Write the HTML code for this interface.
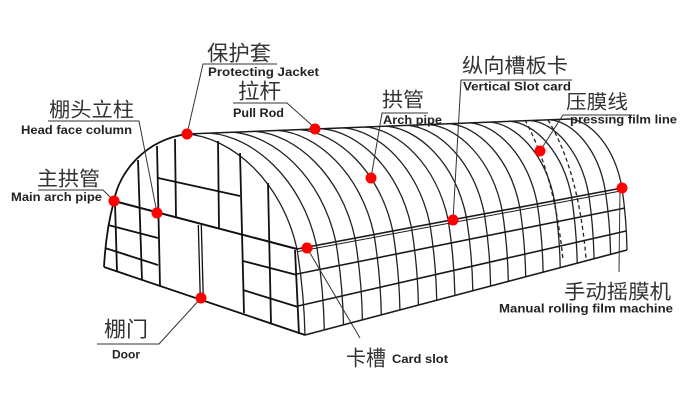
<!DOCTYPE html>
<html><head><meta charset="utf-8"><style>
html,body{margin:0;padding:0;background:#fff;}
svg{display:block;}
.cj{font-family:"Liberation Sans","Noto Sans CJK SC",sans-serif;fill:#333;}
.en{font-family:"Liberation Sans",sans-serif;font-weight:bold;fill:#222;font-size:11.5px;}
</style></head><body>
<svg width="700" height="415" viewBox="0 0 700 415" xmlns="http://www.w3.org/2000/svg">
<rect width="700" height="415" fill="#fff"/>
<!-- side roof arches -->
<g fill="none" stroke="#222" stroke-width="1.3">
<path d="M187,134 C231,137.5 281.6,180 297,249 Q304,292 305,335"/>
<path d="M210,133.1 C252.6,136.5 301.6,178 316.5,245.3 Q323.5,287.6 324.3,329.9"/>
<path d="M232.8,132.2 C274,135.5 321.4,176 335.8,241.7 Q342.7,283.3 343.5,324.8"/>
<path d="M255.3,131.3 C295.2,134.5 341,174 355,238.1 Q361.7,279 362.4,319.8"/>
<path d="M277.7,130.4 C316.2,133.5 360.5,172 374,234.5 Q380.6,274.7 381.3,314.9"/>
<path d="M299.9,129.6 C337,132.6 379.8,170.2 392.8,231 Q399.2,270.5 399.9,309.9"/>
<path d="M321.9,128.7 C357.7,131.7 399,168.2 411.5,227.5 Q417.7,266.3 418.4,305.1"/>
<path d="M343.6,127.9 C378.1,130.8 417.8,166.4 429.9,224.1 Q436,262.2 436.7,300.2"/>
<path d="M365.2,127 C398.4,129.8 436.7,164.4 448.3,220.6 Q454.2,258 454.9,295.4"/>
<path d="M386.6,126.2 C418.5,128.9 455.2,162.6 466.4,217.2 Q472.2,254 472.8,290.7"/>
<path d="M407.8,125.4 C438.4,128 473.7,160.8 484.4,213.8 Q490,249.9 490.6,286"/>
<path d="M428.8,124.5 C458.2,127.1 491.9,158.9 502.2,210.5 Q507.7,245.9 508.3,281.3"/>
<path d="M449.5,123.7 C477.6,126.2 510,157.1 519.8,207.2 Q525.1,242 525.7,276.7"/>
<path d="M470.2,122.9 C497,125.3 527.9,155.3 537.3,203.9 Q542.5,238 543.1,272.2"/>
<path d="M490.5,122.1 C516.1,124.5 545.5,153.5 554.5,200.7 Q559.6,234.2 560.2,267.6"/>
<path d="M510.7,121.3 C535.1,123.6 563.2,151.7 571.7,197.4 Q576.6,230.3 577.2,263.2"/>
<path d="M530.7,120.5 C553.9,122.7 580.5,150 588.7,194.3 Q593.5,226.5 594,258.7"/>
<path d="M550.5,119.8 C572.5,121.9 598.3,148.3 605.4,191.1 Q610.1,222.7 610.6,254.3"/>
<path d="M570,119 C590.8,121.1 614.7,146.6 622,188 Q626.5,219 627,250"/>
</g>
<!-- dashed pressing film lines -->
<g fill="none" stroke="#222" stroke-width="1.3" stroke-dasharray="4,3">
<path d="M525,120 C540,148 556,190 563,260"/>
<path d="M548,120 C565,148 580,190 586,258"/>
</g>
<!-- ridge and side horizontals -->
<g fill="none" stroke="#1a1a1a">
<path d="M187,134 L570,119" stroke-width="1.5"/>
<path d="M297,249 L622,188" stroke-width="1.6"/>
<path d="M297,251.8 L622,190.8" stroke-width="1"/>
<path d="M297,274 L625,208" stroke-width="1.6"/>
<path d="M298,306 L626,231" stroke-width="1.6"/>
<path d="M305,335 L627,250" stroke-width="1.6"/>
</g>
<!-- front face -->
<g fill="none" stroke="#111" stroke-width="1.8">
<path d="M114,201 C119,172 145,140 187,134"/>
<path d="M114,201 Q106,230 104,267"/>
<path d="M114,201 L297,249" stroke-width="2"/>
<path d="M104,267 L305,335"/>
<path d="M295,250 L299,334"/>
<path d="M115,203 L117,271"/>
<path d="M138,160 L142,280"/>
<path d="M157,146 L160,286"/>
<path d="M108,225 L158,238"/>
<path d="M105,248 L158,265"/>
<path d="M158,178 L240,196"/>
<path d="M175,139 L176,218"/>
<path d="M218,141 L219,229"/>
<path d="M240,153 L244,313"/>
<path d="M268,183 L271,323"/>
<path d="M243,261 L297,275"/>
<path d="M243,290 L298,307"/>
<path d="M198.3,225 L200.3,298" stroke-width="1.3"/>
<path d="M201.3,225 L203.3,299" stroke-width="1.3"/>
</g>
<!-- leaders and underlines -->
<g fill="none" stroke="#333" stroke-width="1">
<path d="M277,64 L203,64 L187,134"/>
<path d="M233,103 L287,103 L315,128"/>
<path d="M48,121 L139,121 L157,213"/>
<path d="M38,190 L103,190 L114,201"/>
<path d="M428,113 L382,113 L371,178"/>
<path d="M572,80 L461,80 L453,220"/>
<path d="M630,115 L563,115 L540,151"/>
<path d="M97,344 L159,344 L201,298"/>
<path d="M307,248 L360,338"/>
<path d="M620,188 L619,272"/>
</g>
<!-- red dots -->
<g fill="#f00">
<circle cx="187" cy="134" r="5.5"/>
<circle cx="315" cy="129" r="5.5"/>
<circle cx="157" cy="213" r="5.5"/>
<circle cx="114" cy="201" r="5.5"/>
<circle cx="371" cy="178" r="5.5"/>
<circle cx="453" cy="220" r="5.5"/>
<circle cx="540" cy="151" r="5.5"/>
<circle cx="622" cy="188" r="5.5"/>
<circle cx="307" cy="248" r="5.5"/>
<circle cx="201" cy="298" r="5.5"/>
</g>
<!-- CJK labels -->
<text class="cj" x="207" y="60.5" font-size="21" textLength="64" lengthAdjust="spacingAndGlyphs">保护套</text>
<text class="cj" x="238" y="98.5" font-size="21" textLength="43" lengthAdjust="spacingAndGlyphs">拉杆</text>
<text class="cj" x="49" y="116.5" font-size="20" textLength="85" lengthAdjust="spacingAndGlyphs">棚头立柱</text>
<text class="cj" x="37" y="185.5" font-size="20" textLength="63" lengthAdjust="spacingAndGlyphs">主拱管</text>
<text class="cj" x="382" y="106.5" font-size="20" textLength="42" lengthAdjust="spacingAndGlyphs">拱管</text>
<text class="cj" x="462" y="72.5" font-size="20" textLength="106" lengthAdjust="spacingAndGlyphs">纵向槽板卡</text>
<text class="cj" x="566" y="108.5" font-size="19.5" textLength="62" lengthAdjust="spacingAndGlyphs">压膜线</text>
<text class="cj" x="564" y="298.5" font-size="20" textLength="107" lengthAdjust="spacingAndGlyphs">手动摇膜机</text>
<text class="cj" x="346" y="365.5" font-size="21" textLength="40" lengthAdjust="spacingAndGlyphs">卡槽</text>
<text class="cj" x="104" y="336.5" font-size="21" textLength="44" lengthAdjust="spacingAndGlyphs">棚门</text>
<!-- English labels -->
<text class="en" x="208" y="76" textLength="111" lengthAdjust="spacingAndGlyphs">Protecting Jacket</text>
<text class="en" x="233" y="117" textLength="51" lengthAdjust="spacingAndGlyphs">Pull Rod</text>
<text class="en" x="21" y="134" textLength="111" lengthAdjust="spacingAndGlyphs">Head face column</text>
<text class="en" x="11" y="201" textLength="91" lengthAdjust="spacingAndGlyphs">Main arch pipe</text>
<text class="en" x="383" y="124" textLength="59" lengthAdjust="spacingAndGlyphs">Arch pipe</text>
<text class="en" x="463" y="90.5" textLength="108" lengthAdjust="spacingAndGlyphs">Vertical Slot card</text>
<text class="en" x="570" y="123.5" textLength="107" lengthAdjust="spacingAndGlyphs">pressing film line</text>
<text class="en" x="499" y="312.5" textLength="174" lengthAdjust="spacingAndGlyphs">Manual rolling film machine</text>
<text class="en" x="392" y="363" textLength="56" lengthAdjust="spacingAndGlyphs">Card slot</text>
<text class="en" x="112" y="358.5" textLength="28" lengthAdjust="spacingAndGlyphs">Door</text>
</svg>
</body></html>
